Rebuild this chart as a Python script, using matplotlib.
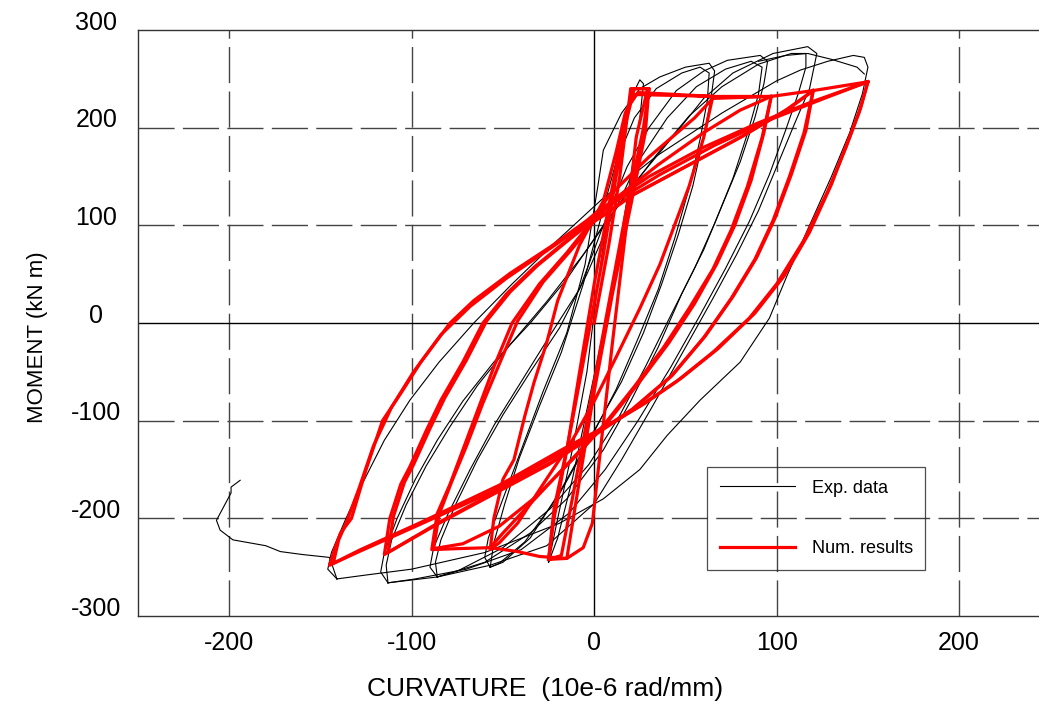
import matplotlib
matplotlib.use("Agg")
import matplotlib.pyplot as plt
import matplotlib.transforms as mtrans

plt.rcParams['font.family'] = ['Liberation Sans', 'DejaVu Sans']
plt.rcParams['axes.unicode_minus'] = False

# ---------------- data (curvature 10e-6 rad/mm, moment kN m) ----------------
x_ticks = [-200, -100, 0, 100, 200]
y_ticks = [-300, -200, -100, 0, 100, 200, 300]

# Experimental loops (thin black)
exp_c1_x = [-25, -20, -12, -4, 2, 8, 14, 20, 25, 27, 25, 20, 14, 6, -3, -12, -20, -25]
exp_c1_y = [-245, -200, -130, -50, 40, 120, 185, 230, 249, 245, 210, 150, 80, 0, -80, -160, -220, -245]

exp_c2_x = [-57, -60, -58, -50, -40, -28, -15, -5, 2, 5, 15, 25, 36, 50, 63, 66, 64, 60, 54, 46, 37, 27, 15, 0, -18, -35, -50, -57]
exp_c2_y = [-250, -240, -220, -180, -130, -70, -10, 60, 140, 177, 215, 240, 252, 262, 266, 258, 230, 190, 140, 90, 40, -10, -60, -110, -170, -220, -245, -250]

exp_c2b_x = [-57, -55, -49, -41, -30, -18, -6, 4, 12, 22, 34, 48, 58, 63, 62, 58, 52, 44, 35, 24, 12, -3, -20, -38, -52, -57]
exp_c2b_y = [-250, -225, -185, -138, -85, -30, 40, 110, 165, 210, 240, 256, 262, 256, 228, 188, 138, 86, 34, -16, -68, -122, -178, -224, -246, -250]

exp_c3_x = [-86, -90, -88, -80, -68, -55, -40, -25, -8, 5, 18, 30, 45, 60, 73, 91, 95, 93, 88, 80, 70, 60, 48, 35, 20, 5, -15, -35, -60, -86]
exp_c3_y = [-260, -250, -230, -195, -150, -105, -60, -15, 35, 100, 160, 200, 238, 258, 269, 274, 268, 245, 210, 165, 120, 75, 30, -25, -80, -130, -180, -215, -245, -260]

exp_c3b_x = [-86, -87, -84, -76, -64, -50, -35, -19, -4, 10, 24, 40, 56, 72, 86, 92, 90, 84, 76, 66, 55, 42, 28, 13, -3, -24, -50, -75, -86]
exp_c3b_y = [-260, -245, -222, -186, -140, -94, -50, -5, 50, 110, 165, 210, 242, 260, 268, 262, 234, 194, 148, 102, 56, 8, -45, -98, -145, -190, -230, -254, -260]

exp_c4_x = [-113, -117, -115, -108, -98, -86, -72, -55, -35, -15, 5, 25, 45, 60, 76, 98, 117, 122, 120, 118, 110, 100, 90, 78, 65, 50, 32, 15, 0, -26, -57, -86, -113]
exp_c4_y = [-266, -255, -235, -200, -160, -120, -80, -40, 0, 45, 100, 150, 195, 230, 256, 276, 283, 276, 258, 240, 205, 160, 115, 70, 25, -25, -85, -140, -185, -228, -248, -260, -266]

exp_c4b_x = [-113, -114, -111, -103, -92, -79, -64, -46, -26, -6, 14, 34, 52, 70, 90, 108, 116, 116, 112, 105, 96, 85, 72, 58, 42, 24, 6, -14, -40, -70, -98, -113]
exp_c4b_y = [-266, -248, -222, -186, -146, -106, -64, -22, 22, 70, 122, 172, 212, 242, 265, 276, 276, 262, 236, 198, 152, 104, 56, 8, -45, -100, -150, -195, -232, -252, -262, -266]

exp_c5_x = [-141, -146, -144, -136, -128, -115, -101, -85, -66, -45, -20, 5, 35, 70, 100, 113, 128, 142, 148, 150, 147, 140, 130, 118, 106, 96, 80, 58, 40, 25, 5, -19, -60, -100, -125, -141]
exp_c5_y = [-262, -252, -235, -200, -168, -120, -79, -40, 0, 40, 85, 128, 172, 215, 248, 259, 268, 274, 272, 262, 235, 195, 150, 100, 50, 5, -40, -79, -115, -150, -180, -205, -235, -252, -258, -262]

exp_top_x = [90, 105, 117, 130, 144, 148]
exp_top_y = [268, 274, 276, 270, 262, 255]

exp_tail_x = [-141, -145, -160, -172, -180, -198, -205, -207, -203, -199, -199, -194]
exp_tail_y = [-262, -240, -237, -234, -228, -222, -212, -202, -188, -174, -168, -161]

# Numerical loops (thick red)
num_c1_x = [0, 8, 14, 18, 20, 30, 28, 20, 10, 0, -8, -15, -25, -22, -14, -5, 5, 12, 18, 22, 30, 27, 17, 6, -4, -12, -18, -25]
num_c1_y = [0, 80, 150, 210, 240, 240, 195, 120, 30, -70, -160, -241, -242, -190, -120, -30, 70, 150, 215, 240, 240, 200, 110, 0, -100, -180, -238, -242]

num_c1b_x = [-57, -42, -30, -15, -6, -1, 4, 10, 17, 23, 29]
num_c1b_y = [-230, -234, -239, -241, -230, -205, -120, -20, 90, 190, 238]

num_c2_x = [-25, -22, -15, -8, 0, 8, 14, 20, 24, 45, 65, 60, 52, 45, 36, 25, 12, 0, -12, -28, -42, -52, -57, -55, -50, -44, -38, -33, -26, -20, -8, 5, 12, 17, 22, 45, 65]
num_c2_y = [-242, -200, -130, -50, 40, 120, 180, 225, 236, 234, 232, 190, 140, 105, 60, 15, -35, -80, -120, -165, -205, -225, -232, -200, -160, -140, -95, -61, -20, 23, 80, 125, 175, 215, 234, 233, 232]

num_c3_x = [65, 97, 92, 84, 75, 65, 52, 38, 22, 5, -15, -35, -50, -57, -75, -89, -86, -79, -72, -63, -55, -45, -30, -15, -3, 8, 30, 55, 65, 97]
num_c3_y = [232, 232, 190, 140, 95, 55, 15, -25, -65, -105, -145, -185, -215, -230, -231, -232, -195, -165, -130, -85, -45, 0, 40, 72, 100, 130, 170, 210, 230, 232]

num_c3b_x = [97, 93, 86, 77, 67, 55, 41, 25, 8, -12, -32, -52, -72, -88, -85, -78, -70, -61, -52, -42, -28, -13, -1, 12, 35, 60, 80, 97]
num_c3b_y = [232, 195, 146, 100, 60, 20, -20, -60, -100, -140, -178, -208, -226, -231, -196, -162, -126, -82, -42, 2, 42, 74, 102, 128, 162, 195, 218, 232]

num_c4_x = [97, 120, 115, 107, 98, 88, 75, 60, 42, 20, 0, -25, -55, -85, -115, -112, -106, -101, -92, -84, -72, -61, -48, -33, -18, -8, 3, 20, 50, 80, 105, 120]
num_c4_y = [232, 238, 195, 150, 105, 65, 25, -15, -55, -90, -115, -145, -175, -205, -237, -200, -165, -147, -110, -79, -40, 0, 30, 57, 80, 95, 108, 130, 160, 190, 218, 238]

num_c4b_x = [120, 116, 108, 99, 89, 76, 61, 43, 21, 1, -24, -54, -84, -113, -110, -104, -99, -90, -82, -70, -59, -46, -31, -16, -6, 5, 22, 52, 82, 107, 120]
num_c4b_y = [238, 197, 152, 107, 67, 27, -13, -53, -88, -113, -143, -173, -203, -235, -198, -163, -145, -108, -77, -38, 2, 32, 59, 82, 97, 110, 132, 162, 192, 220, 238]

num_c5_x = [120, 150, 145, 138, 128, 115, 100, 85, 65, 45, 25, 5, -20, -55, -100, -130, -145, -142, -139, -133, -125, -116, -106, -95, -79, -66, -46, -24, -4, 3, 30, 60, 90, 120, 150]
num_c5_y = [238, 247, 215, 180, 135, 85, 40, 5, -30, -60, -85, -108, -135, -172, -210, -235, -248, -230, -215, -200, -150, -100, -72, -40, 0, 23, 51, 78, 105, 116, 150, 180, 205, 227, 247]

num_c5b_x = [150, 146, 139, 130, 118, 104, 88, 68, 48, 28, 8, -18, -52, -96, -128, -143, -140, -136, -129, -121, -111, -99, -84, -68, -48, -26, -6, 8, 36, 66, 96, 126, 150]
num_c5b_y = [247, 220, 186, 142, 93, 48, 10, -26, -56, -82, -104, -130, -166, -205, -232, -246, -222, -205, -170, -126, -86, -50, -12, 17, 46, 74, 100, 120, 152, 182, 208, 230, 247]

exp_series = [(exp_c1_x, exp_c1_y), (exp_c2_x, exp_c2_y), (exp_c2b_x, exp_c2b_y),
              (exp_c3_x, exp_c3_y), (exp_c3b_x, exp_c3b_y), (exp_c4_x, exp_c4_y),
              (exp_c4b_x, exp_c4b_y), (exp_c5_x, exp_c5_y), (exp_top_x, exp_top_y),
              (exp_tail_x, exp_tail_y)]
num_series = [(num_c1_x, num_c1_y), (num_c1b_x, num_c1b_y), (num_c2_x, num_c2_y),
              (num_c3_x, num_c3_y), (num_c3b_x, num_c3b_y), (num_c4_x, num_c4_y),
              (num_c4b_x, num_c4b_y), (num_c5_x, num_c5_y), (num_c5b_x, num_c5b_y)]

# ---------------- figure ----------------
fig = plt.figure(figsize=(10.39, 7.05), dpi=100)
ax = fig.add_axes([0.1328, 0.1262, 0.8782, 0.8312])
ax.set_xlim(-250, 250)
ax.set_ylim(-300, 300)

# grid
for xv in x_ticks:
    if xv == 0:
        ax.axvline(xv, color='black', lw=1.0, zorder=1)
    else:
        ax.axvline(xv, color='#444444', lw=1.0, dashes=(26, 6), zorder=1)
for yv in y_ticks:
    if yv == 0:
        ax.axhline(yv, color='black', lw=1.0, zorder=1)
    elif abs(yv) < 300:
        ax.axhline(yv, color='#444444', lw=1.0, dashes=(26, 6), zorder=1)

for i, (xs, ys) in enumerate(exp_series):
    ax.plot(xs, ys, color='black', lw=0.8, zorder=2, solid_joinstyle='round',
            label='Exp. data' if i == 0 else None)
for i, (xs, ys) in enumerate(num_series):
    ax.plot(xs, ys, color='#ff0000', lw=2.3, zorder=3, solid_joinstyle='round',
            label='Num. results' if i == 0 else None)

for s in ['left', 'top', 'bottom']:
    ax.spines[s].set_color('#333333')
    ax.spines[s].set_linewidth(1.0)
ax.spines['right'].set_visible(False)

ax.set_xticks(x_ticks)
ax.set_yticks(y_ticks)
ax.tick_params(axis='both', length=0, labelsize=18)
ax.tick_params(axis='x', pad=11)
ax.tick_params(axis='y', pad=30)
for lab in ax.get_yticklabels():
    lab.set_horizontalalignment('center')
    lab.set_transform(lab.get_transform() + mtrans.ScaledTranslation(0, 0.10, fig.dpi_scale_trans))

ax.set_xlabel('CURVATURE  (10e-6 rad/mm)', fontsize=19)
ax.xaxis.set_label_coords(0.4457, -0.104)
ax.set_ylabel('MOMENT (kN m)', fontsize=16)
ax.yaxis.set_label_coords(-0.099, 0.476)

leg = ax.legend(loc='upper left', bbox_to_anchor=(0.6236, 0.2543), borderaxespad=0,
                fontsize=13, frameon=True, fancybox=False, edgecolor='#222222',
                facecolor='none', handlelength=4.2, handletextpad=0.9,
                labelspacing=2.4, borderpad=0.7)
leg.get_frame().set_linewidth(0.9)

fig.savefig('out.png', dpi=100)
